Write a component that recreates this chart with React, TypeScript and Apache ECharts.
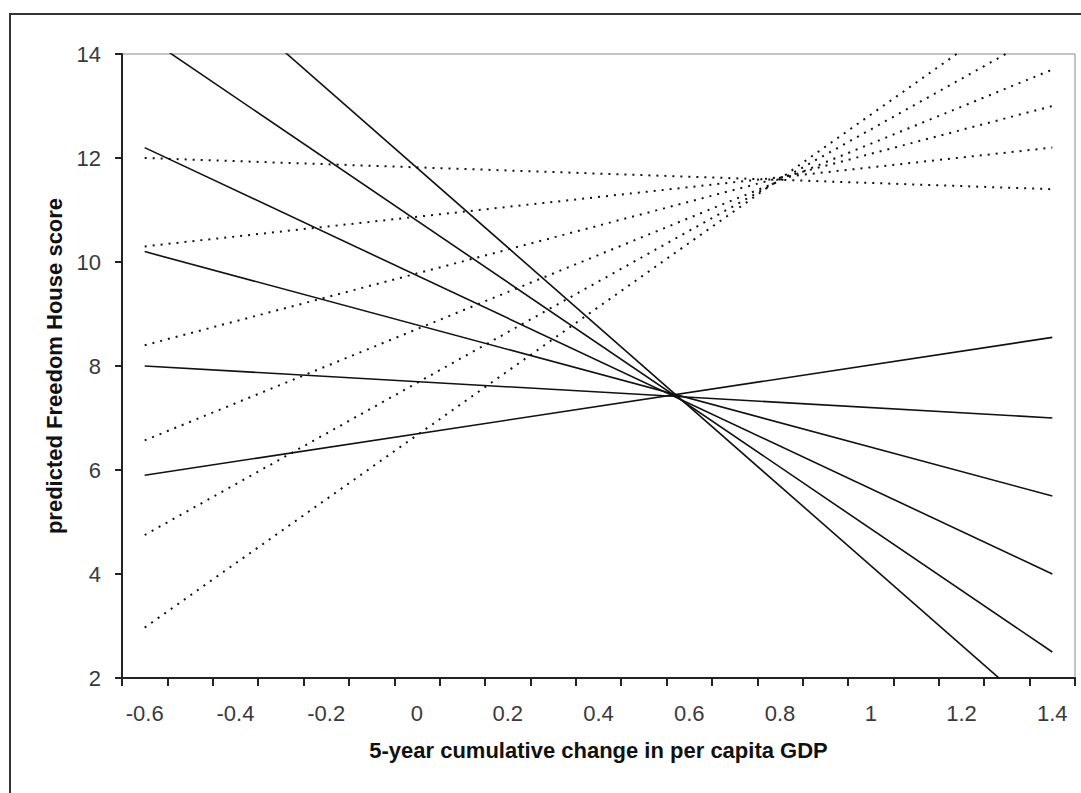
import React, { useEffect, useRef } from "react";
import * as echarts from "echarts";

// x categories (5-year cumulative change in per capita GDP)
const categories = [
  "-0.6", "-0.5", "-0.4", "-0.3", "-0.2", "-0.1", "0", "0.1", "0.2", "0.3", "0.4",
  "0.5", "0.6", "0.7", "0.8", "0.9", "1", "1.1", "1.2", "1.3", "1.4",
];

// solid lines: predicted value at x = -0.6 and at x = 1.4
const solidStart = [16.4, 14.35, 12.2, 10.2, 8.0, 5.9];
const solidEnd = [1.1, 2.5, 4.0, 5.5, 7.0, 8.55];

// dotted lines: predicted value at x = -0.6 and at x = 1.4
const dottedStart = [12.0, 10.3, 8.4, 6.57, 4.75, 2.97];
const dottedEnd = [11.4, 12.2, 13.0, 13.7, 14.5, 15.3];

const yMin = 2;
const yMax = 14;
const yStep = 2;

const FONT = "'Liberation Sans', Arial, sans-serif";

export default function App() {
  const ref = useRef<HTMLDivElement>(null);

  useEffect(() => {
    if (!ref.current) return;
    const chart = echarts.init(ref.current, null, { renderer: "svg" });
    const first = categories[0];
    const last = categories[categories.length - 1];

    const series: any[] = [];
    solidStart.forEach((v, i) => {
      series.push({
        type: "line",
        name: "solid" + i,
        data: [
          [first, v],
          [last, solidEnd[i]],
        ],
        showSymbol: false,
        symbol: "none",
        clip: true,
        lineStyle: { color: "#111", width: 1.6, type: "solid" },
      });
    });
    dottedStart.forEach((v, i) => {
      series.push({
        type: "line",
        name: "dotted" + i,
        data: [
          [first, v],
          [last, dottedEnd[i]],
        ],
        showSymbol: false,
        symbol: "none",
        clip: true,
        lineStyle: { color: "#111", width: 2, type: [2, 6] },
      });
    });

    chart.setOption({
      animation: false,
      backgroundColor: "#ffffff",
      textStyle: { fontFamily: FONT },
      graphic: [
        {
          type: "rect",
          shape: { x: 10, y: 14, width: 1100, height: 820 },
          style: { fill: "none", stroke: "#333", lineWidth: 2 },
          silent: true,
          z: -10,
        },
      ],
      grid: {
        left: 122,
        top: 54,
        right: 6,
        bottom: 115,
        show: true,
        borderColor: "#888",
        borderWidth: 1,
        backgroundColor: "transparent",
      },
      xAxis: {
        type: "category",
        data: categories,
        boundaryGap: true,
        name: "5-year cumulative change in per capita GDP",
        nameLocation: "middle",
        nameGap: 61,
        nameTextStyle: {
          fontSize: 22,
          fontWeight: "bold",
          color: "#111",
          fontFamily: FONT,
        },
        axisLine: { show: true, lineStyle: { color: "#222", width: 2 } },
        axisTick: {
          show: true,
          interval: 0,
          length: 8,
          inside: false,
          lineStyle: { color: "#222", width: 2 },
        },
        axisLabel: {
          interval: 1,
          fontSize: 22,
          color: "#3a3a3a",
          margin: 24,
          fontFamily: FONT,
        },
        splitLine: { show: false },
      },
      yAxis: {
        type: "value",
        min: yMin,
        max: yMax,
        interval: yStep,
        name: "predicted Freedom House score",
        nameLocation: "middle",
        nameGap: 57,
        nameTextStyle: {
          fontSize: 22,
          fontWeight: "bold",
          color: "#111",
          fontFamily: FONT,
        },
        axisLine: { show: true, lineStyle: { color: "#222", width: 2 } },
        axisTick: {
          show: true,
          length: 7,
          lineStyle: { color: "#222", width: 2 },
        },
        axisLabel: {
          fontSize: 22,
          color: "#3a3a3a",
          margin: 21,
          fontFamily: FONT,
        },
        splitLine: { show: false },
      },
      series,
    });

    return () => {
      chart.dispose();
    };
  }, []);

  return (
    <div
      ref={ref}
      style={{
        position: "fixed",
        left: 0,
        top: 0,
        width: 1081,
        height: 793,
        background: "#fff",
      }}
    />
  );
}
